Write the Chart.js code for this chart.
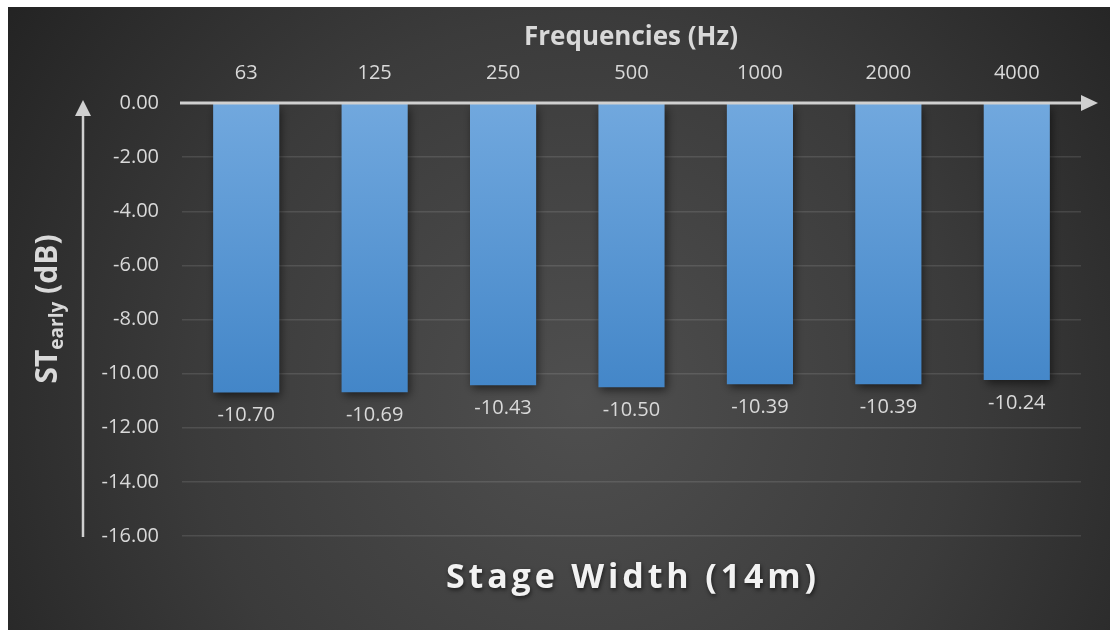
<!DOCTYPE html>
<html>
<head>
<meta charset="utf-8">
<script src="https://cdn.jsdelivr.net/npm/chart.js@4.4.1/dist/chart.umd.min.js"></script>
<style>
  html, body { margin: 0; padding: 0; background: #ffffff; }
  canvas { display: block; }
</style>
</head>
<body>
<canvas id="chart" width="1110" height="630"></canvas>
<script>
// Octave-band centre frequencies and early stage support values
const frequencies = ['63', '125', '250', '500', '1000', '2000', '4000'];
const stEarly = [-10.70, -10.69, -10.43, -10.50, -10.39, -10.39, -10.24];
const yMin = -16;
const yMax = 0;
const yStep = 2;

const FONT = "'Open Sans', 'DejaVu Sans', sans-serif";
const TEXT = '#d9d9d9';

// Dark radial backdrop inside a thin white frame
const backdrop = {
  id: 'backdrop',
  beforeDraw(chart) {
    const ctx = chart.ctx;
    const w = chart.width, h = chart.height;
    ctx.save();
    ctx.fillStyle = '#ffffff';
    ctx.fillRect(0, 0, w, h);
    const g = ctx.createRadialGradient(580, 400, 0, 580, 400, 700);
    g.addColorStop(0, '#4f4f4f');
    g.addColorStop(0.55, '#3b3b3b');
    g.addColorStop(1, '#232323');
    ctx.fillStyle = g;
    ctx.fillRect(8, 7, w - 8, h - 7);
    ctx.restore();
  }
};

// Soft drop shadow under the bars
const barShadow = {
  id: 'barShadow',
  beforeDatasetsDraw(chart) {
    const ctx = chart.ctx;
    ctx.save();
    ctx.shadowColor = 'rgba(0,0,0,0.55)';
    ctx.shadowBlur = 9;
    ctx.shadowOffsetX = 2;
    ctx.shadowOffsetY = 4;
  },
  afterDatasetsDraw(chart) {
    chart.ctx.restore();
  }
};

function arrowHead(ctx, tipX, tipY, dir, len, half) {
  ctx.beginPath();
  if (dir === 'right') {
    ctx.moveTo(tipX, tipY);
    ctx.lineTo(tipX - len, tipY - half);
    ctx.lineTo(tipX - len, tipY + half);
  } else {
    ctx.moveTo(tipX, tipY);
    ctx.lineTo(tipX - half, tipY + len);
    ctx.lineTo(tipX + half, tipY + len);
  }
  ctx.closePath();
  ctx.fill();
}

// Axis arrows, value labels and titles
const overlay = {
  id: 'overlay',
  afterDraw(chart) {
    const ctx = chart.ctx;
    const area = chart.chartArea;
    const ys = chart.scales.y;
    const zeroY = ys.getPixelForValue(0);
    const bottomY = ys.getPixelForValue(yMin);

    ctx.save();
    ctx.strokeStyle = '#d0d0d0';
    ctx.fillStyle = '#d0d0d0';

    // horizontal axis with arrow
    ctx.lineWidth = 3;
    ctx.beginPath();
    ctx.moveTo(area.left - 2, zeroY);
    ctx.lineTo(area.right + 6, zeroY);
    ctx.stroke();
    arrowHead(ctx, area.right + 17, zeroY, 'right', 17, 8);

    // vertical arrow beside the tick labels
    const ax = 83;
    ctx.lineWidth = 2.5;
    ctx.beginPath();
    ctx.moveTo(ax, bottomY + 1);
    ctx.lineTo(ax, zeroY + 10);
    ctx.stroke();
    arrowHead(ctx, ax, zeroY - 3, 'up', 16, 8);

    // value labels under each bar
    ctx.fillStyle = TEXT;
    ctx.font = '20px ' + FONT;
    ctx.textAlign = 'center';
    ctx.textBaseline = 'middle';
    const meta = chart.getDatasetMeta(0);
    meta.data.forEach((bar, i) => {
      ctx.fillText(stEarly[i].toFixed(2), bar.x, bar.y + 23);
    });

    // top axis title
    ctx.fillStyle = TEXT;
    ctx.font = 'bold 26px ' + FONT;
    ctx.fillText('Frequencies (Hz)', 631, 38);

    // vertical axis title with subscript
    ctx.save();
    ctx.translate(47, 309);
    ctx.rotate(-Math.PI / 2);
    ctx.textAlign = 'left';
    ctx.textBaseline = 'alphabetic';
    const big = 'bold 30px ' + FONT;
    const small = 'bold 19px ' + FONT;
    ctx.font = big; const w1 = ctx.measureText('ST').width;
    ctx.font = small; const w2 = ctx.measureText('early').width;
    ctx.font = big; const w3 = ctx.measureText(' (dB)').width;
    let x0 = -(w1 + w2 + w3) / 2;
    const base = 10;
    ctx.font = big; ctx.fillText('ST', x0, base); x0 += w1;
    ctx.font = small; ctx.fillText('early', x0, base + 6); x0 += w2;
    ctx.font = big; ctx.fillText(' (dB)', x0, base);
    ctx.restore();

    // chart title beneath the plot
    ctx.save();
    ctx.font = 'bold 34px ' + FONT;
    const label = 'Stage Width (14m)';
    const natural = ctx.measureText(label).width;
    const spacing = Math.max(0, (370 - natural) / (label.length - 1));
    ctx.letterSpacing = spacing.toFixed(2) + 'px';
    ctx.shadowColor = 'rgba(0,0,0,0.6)';
    ctx.shadowBlur = 4;
    ctx.shadowOffsetX = 1;
    ctx.shadowOffsetY = 2;
    ctx.fillStyle = '#f2f2f2';
    ctx.textAlign = 'center';
    ctx.fillText(label, 631 + spacing / 2, 578);
    ctx.restore();

    ctx.restore();
  }
};

const ctx = document.getElementById('chart').getContext('2d');
new Chart(ctx, {
  type: 'bar',
  data: {
    labels: frequencies,
    datasets: [{
      data: stEarly,
      backgroundColor(context) {
        const chart = context.chart;
        const area = chart.chartArea;
        if (!area) return '#5b9bd5';
        const g = chart.ctx.createLinearGradient(0, area.top, 0, chart.scales.y.getPixelForValue(-10.7));
        g.addColorStop(0, '#71a8de');
        g.addColorStop(1, '#4386c8');
        return g;
      },
      borderWidth: 0,
      categoryPercentage: 1,
      barPercentage: 0.515
    }]
  },
  options: {
    responsive: false,
    animation: false,
    devicePixelRatio: 1,
    layout: { padding: { left: 0, top: 0, right: 29, bottom: 94 } },
    plugins: {
      legend: { display: false },
      tooltip: { enabled: false }
    },
    scales: {
      x: {
        position: 'top',
        grid: { display: false, drawTicks: false },
        border: { display: false },
        ticks: { color: TEXT, font: { family: FONT, size: 20 }, padding: 18 },
        afterFit(scale) { scale.height = 103; }
      },
      y: {
        min: yMin,
        max: yMax,
        grid: { color: 'rgba(255,255,255,0.11)', lineWidth: 1.5, drawTicks: false },
        border: { display: false },
        ticks: {
          stepSize: yStep,
          color: TEXT,
          font: { family: FONT, size: 20 },
          padding: 23,
          callback: v => Number(v).toFixed(2)
        },
        afterFit(scale) { scale.width = 182; }
      }
    }
  },
  plugins: [backdrop, barShadow, overlay]
});
</script>
</body>
</html>
